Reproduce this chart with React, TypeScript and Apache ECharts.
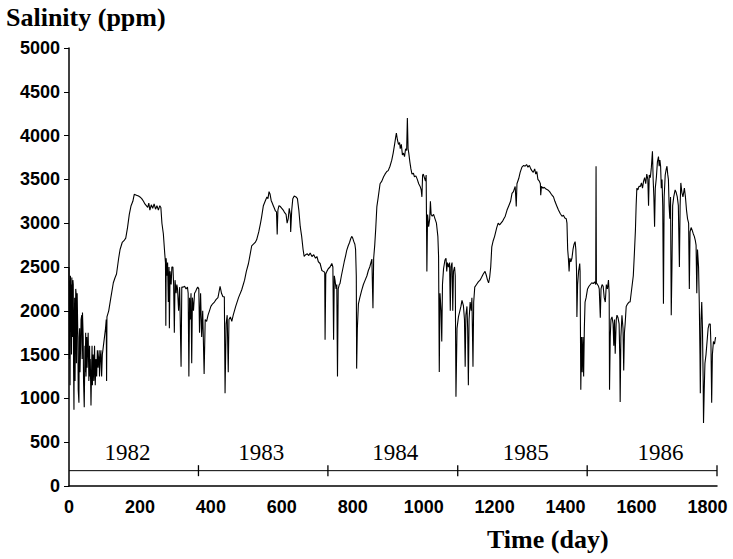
import React, { useEffect, useRef } from "react";
import * as echarts from "echarts";

// Salinity (ppm) readings: [day, value]
const salinity1982: number[][] = [
  [0, 2500], [1, 1450], [2, 2350], [3, 1150], [4, 2400], [5, 1900], [6, 2300], [7, 1500], [8, 2380], [10, 1700],
  [11, 2350], [12, 2300], [13, 1300], [14, 870], [15, 1900], [16, 2150], [17, 1200], [18, 1650], [19, 2250], [20, 2200],
  [21, 1400], [22, 1900], [23, 2200], [25, 1700], [26, 1100], [28, 950], [29, 1700], [30, 1800], [31, 1300], [33, 1650],
  [34, 1900], [36, 1950], [37, 1450], [38, 1980], [40, 1700], [41, 1200], [43, 900], [45, 1600], [46, 1300], [47, 1750],
  [48, 1250], [50, 1700], [51, 1350], [52, 1500], [54, 1750], [56, 1200], [58, 1600], [59, 1250], [60, 1450], [62, 920],
  [64, 1400], [65, 1600], [66, 1150], [68, 1500], [70, 1200], [72, 1600], [74, 1150], [76, 1450], [78, 1250], [80, 1550],
  [82, 1350], [85, 1550], [86, 1250], [88, 1450], [90, 1550], [92, 1250], [94, 1500], [97, 1600], [100, 1700], [103, 1800],
  [105, 1900], [106, 1200], [107, 1930], [112, 2000], [118, 2150], [125, 2320], [130, 2380], [134, 2420], [140, 2600],
  [144, 2700], [150, 2780], [155, 2800], [160, 2830], [165, 2950], [170, 3100], [175, 3200], [180, 3250], [184, 3330],
  [190, 3320], [196, 3310], [200, 3300], [205, 3280], [210, 3250], [214, 3220], [218, 3200], [222, 3180], [225, 3230],
  [228, 3150], [232, 3210], [236, 3170], [240, 3220], [244, 3160], [248, 3200], [252, 3150], [256, 3200], [259, 3180],
  [262, 3000], [266, 2880], [270, 2650], [272, 2550], [273, 1830], [274, 2600], [276, 2400], [278, 2550], [280, 2100],
  [282, 2500], [283, 1800], [285, 2450], [288, 2300], [290, 2500], [293, 2500], [295, 2300], [297, 1750], [299, 2350],
  [302, 2200], [304, 2300], [306, 2250], [309, 2000], [312, 2270], [316, 1360], [318, 2270], [322, 2270], [326, 2280],
  [330, 2250], [334, 2270], [336, 2200], [338, 1250], [340, 2150], [342, 1900], [344, 2200], [346, 1400], [348, 2150],
  [351, 2000], [354, 2200], [357, 2220], [360, 2250], [363, 2270]
];

const salinity1983: number[][] = [
  [366, 2250], [368, 1750], [371, 2200], [374, 1700], [377, 2000], [381, 1280], [384, 1900], [388, 1880], [392, 1950],
  [396, 2000], [400, 2050], [405, 2080], [410, 2100], [415, 2130], [420, 2150], [426, 2280], [430, 2200], [434, 2160],
  [438, 2160], [440, 1060], [443, 1850], [446, 1950], [449, 1300], [451, 1900], [455, 1930], [459, 1880], [463, 1950],
  [470, 2050], [478, 2150], [487, 2240], [495, 2350], [500, 2450], [506, 2540], [511, 2650], [515, 2740], [520, 2760],
  [525, 2780], [529, 2810], [535, 2900], [540, 3000], [543, 3070], [548, 3200], [553, 3250], [558, 3300], [561, 3280],
  [564, 3360], [567, 3330], [570, 3260], [573, 3230], [576, 3200], [579, 3170], [582, 3140], [585, 3130], [587, 2870],
  [589, 3150], [592, 3200], [596, 3190], [600, 3170], [604, 3150], [608, 3120], [612, 3100], [615, 3000], [618, 3050],
  [621, 3170], [624, 3100], [625, 2900], [628, 3150], [631, 3280], [635, 3310], [640, 3300], [644, 3280], [648, 3150],
  [652, 2960], [656, 2850], [660, 2700], [663, 2620], [667, 2640], [672, 2650], [676, 2630], [680, 2660], [685, 2620],
  [690, 2640], [695, 2600], [699, 2620], [703, 2560], [708, 2540], [713, 2460], [717, 2450], [721, 2440], [722, 1670],
  [724, 2420], [727, 2450]
];

const salinity1984: number[][] = [
  [731, 2480], [736, 2500], [741, 2540], [744, 2500], [746, 1670], [748, 2400], [750, 2350], [753, 2250], [755, 2300],
  [757, 1250], [759, 2250], [762, 2300], [764, 2310], [768, 2400], [772, 2480], [776, 2560], [780, 2630], [783, 2690],
  [787, 2740], [791, 2780], [794, 2820], [797, 2850], [800, 2830], [803, 2790], [806, 2760], [808, 2700], [810, 2400],
  [811, 1340], [813, 1800], [816, 2080], [820, 2150], [825, 2230], [830, 2300], [835, 2350], [840, 2400], [844, 2460],
  [848, 2500], [852, 2560], [854, 2590], [856, 2200], [857, 2030], [859, 2600], [862, 2750], [865, 2950], [868, 3190],
  [872, 3300], [877, 3450], [882, 3480], [887, 3530], [891, 3560], [896, 3590], [900, 3600], [905, 3650], [910, 3720],
  [914, 3800], [918, 3900], [921, 3980], [923, 4030], [926, 3950], [929, 3900], [932, 3920], [934, 3850], [937, 3900],
  [940, 3780], [943, 3800], [946, 3760], [949, 3850], [952, 3830], [954, 4200], [956, 3850], [958, 3800], [961, 3700],
  [964, 3620], [967, 3560], [971, 3570], [974, 3530], [978, 3540], [982, 3500], [986, 3450], [990, 3420], [993, 3380],
  [995, 3300], [997, 3550], [999, 3560], [1002, 3520], [1005, 3480], [1007, 3550], [1009, 2450], [1011, 3100],
  [1014, 2960], [1017, 3050], [1019, 3250], [1021, 3100], [1024, 3080], [1028, 3100], [1032, 3050], [1036, 3000],
  [1040, 2850], [1042, 2620], [1044, 1300], [1046, 2200], [1049, 2000], [1051, 1650], [1053, 2300], [1056, 2480],
  [1060, 2580], [1063, 2600], [1065, 2450], [1067, 2550], [1070, 2500], [1073, 2550], [1075, 2000], [1077, 2500],
  [1080, 2550], [1082, 2000], [1084, 2450], [1087, 2500], [1089, 2400], [1091, 1020], [1094, 1800]
];

const salinity1985: number[][] = [
  [1098, 1930], [1102, 2000], [1105, 2050], [1108, 2120], [1112, 2060], [1115, 1900], [1117, 1360], [1119, 1950],
  [1122, 2050], [1124, 1800], [1126, 1150], [1128, 1900], [1131, 2100], [1134, 2000], [1136, 2150], [1139, 1360],
  [1141, 2100], [1144, 2270], [1149, 2300], [1154, 2330], [1159, 2350], [1163, 2380], [1168, 2420], [1173, 2450],
  [1177, 2400], [1180, 2350], [1183, 2320], [1186, 2380], [1189, 2500], [1192, 2730], [1196, 2800], [1200, 2850],
  [1206, 2950], [1210, 3000], [1214, 2980], [1218, 3000], [1222, 3020], [1226, 3050], [1230, 3080], [1235, 3150],
  [1240, 3200], [1245, 3250], [1249, 3340], [1253, 3360], [1258, 3420], [1261, 3190], [1263, 3450], [1268, 3510],
  [1272, 3580], [1277, 3640], [1282, 3660], [1286, 3650], [1290, 3670], [1294, 3640], [1298, 3660], [1302, 3620],
  [1305, 3600], [1309, 3580], [1313, 3620], [1316, 3560], [1319, 3590], [1322, 3500], [1326, 3480], [1329, 3450],
  [1330, 3320], [1332, 3420], [1336, 3400], [1340, 3410], [1345, 3390], [1350, 3380], [1355, 3360], [1360, 3330],
  [1366, 3300], [1370, 3250], [1375, 3200], [1380, 3150], [1385, 3110], [1390, 3080], [1394, 3090], [1398, 3060],
  [1402, 3050], [1404, 3000], [1406, 2700], [1408, 2600], [1410, 2450], [1412, 2600], [1415, 2560], [1418, 2600],
  [1421, 2700], [1424, 2760], [1427, 2790], [1429, 2700], [1431, 2450], [1432, 1930], [1434, 2300], [1437, 2460],
  [1440, 2540], [1441, 2450], [1443, 1100], [1445, 1700], [1447, 1300], [1449, 1700], [1451, 1250], [1453, 1800],
  [1455, 2100], [1458, 2150]
];

const salinity1986: number[][] = [
  [1462, 2250], [1466, 2280], [1470, 2300], [1474, 2320], [1478, 2310], [1482, 2330], [1485, 2300], [1486, 3650],
  [1487, 2320], [1490, 2300], [1493, 2280], [1495, 2250], [1498, 1920], [1500, 2250], [1503, 2300], [1506, 2280],
  [1509, 2150], [1512, 2100], [1515, 2300], [1518, 2250], [1521, 2350], [1523, 2200], [1524, 1100], [1526, 1700],
  [1528, 1900], [1531, 1930], [1534, 1850], [1536, 1600], [1538, 1900], [1540, 1510], [1543, 1900], [1545, 1950],
  [1548, 1920], [1551, 1850], [1553, 1450], [1554, 960], [1556, 1700], [1559, 1950], [1562, 1800], [1564, 1320],
  [1566, 1750], [1568, 1850], [1571, 2050], [1575, 2080], [1579, 2100], [1582, 2100], [1585, 2200], [1588, 2300],
  [1591, 2400], [1594, 2650], [1597, 2920], [1599, 3200], [1601, 3400], [1604, 3380], [1607, 3420], [1611, 3420],
  [1614, 3460], [1617, 3400], [1620, 3480], [1623, 3520], [1626, 3450], [1629, 3560], [1632, 3500], [1634, 3200],
  [1636, 3550], [1639, 3520], [1642, 3640], [1645, 3820], [1647, 3500], [1649, 3300], [1651, 2960], [1653, 3400],
  [1656, 3520], [1659, 3700], [1662, 3760], [1664, 3650], [1666, 3720], [1668, 3650], [1670, 3400], [1672, 3500],
  [1674, 3200], [1676, 2080], [1678, 3300], [1681, 3550], [1684, 3620], [1686, 3650], [1688, 3560], [1690, 3500],
  [1692, 3200], [1694, 3050], [1696, 3300], [1698, 1950], [1700, 2500], [1702, 3200], [1705, 3300], [1709, 3380],
  [1712, 3350], [1715, 3300], [1718, 3200], [1721, 2500], [1723, 3200], [1725, 3460], [1728, 3350], [1731, 3300],
  [1735, 3400], [1738, 3300], [1741, 3150], [1744, 3050], [1747, 3000], [1749, 2250], [1751, 2900], [1754, 2950],
  [1757, 2920], [1760, 2880], [1763, 2850], [1766, 2800], [1768, 2750], [1770, 2200], [1772, 2700], [1775, 2500],
  [1777, 2100], [1779, 1500], [1780, 1060], [1782, 1900], [1784, 2100], [1786, 1800], [1788, 1200], [1789, 720],
  [1791, 1100], [1793, 1400], [1796, 1500], [1799, 1650], [1802, 1800], [1805, 1850], [1808, 1850], [1810, 1600],
  [1812, 950], [1814, 1500], [1817, 1650], [1820, 1620], [1823, 1700]
];

// Year band annotations
const yearNames = ["1982", "1983", "1984", "1985", "1986"];
const yearLabelDays = [165, 542, 920, 1288, 1668];
const yearBoundaryDays = [365, 730, 1096, 1461, 1827];
const yearLineLevel = 175;
const yearLabelLevel = 380;

const X_MAX = 1827;

export default function App() {
  const ref = useRef<HTMLDivElement>(null);

  useEffect(() => {
    if (!ref.current) return;
    const chart = echarts.init(ref.current, null, { renderer: "svg" });
    const salinity = [
      ...salinity1982,
      ...salinity1983,
      ...salinity1984,
      ...salinity1985,
      ...salinity1986,
    ];
    const option: any = {
      animation: false,
      backgroundColor: "#ffffff",
      grid: { left: 69, right: 16, top: 48, bottom: 73, containLabel: false },
      xAxis: {
        type: "value",
        min: 0,
        max: X_MAX,
        interval: 200,
        axisLine: { show: true, lineStyle: { color: "#000", width: 1.5 } },
        axisTick: { show: false },
        splitLine: { show: false },
        axisLabel: {
          color: "#000",
          fontFamily: "Liberation Sans",
          fontWeight: "bold",
          fontSize: 18,
          margin: 12,
          formatter: (v: number) => String(v),
        },
      },
      yAxis: {
        type: "value",
        min: 0,
        max: 5000,
        interval: 500,
        axisLine: { show: true, lineStyle: { color: "#000", width: 1.5 } },
        axisTick: { show: true, inside: false, length: 5, lineStyle: { color: "#000", width: 1 } },
        splitLine: { show: false },
        axisLabel: {
          color: "#000",
          fontFamily: "Liberation Sans",
          fontWeight: "bold",
          fontSize: 18,
          margin: 9,
          formatter: (v: number) => String(v),
        },
      },
      series: [
        {
          type: "line",
          data: salinity,
          showSymbol: false,
          symbol: "none",
          lineStyle: { color: "#000", width: 1.1 },
          z: 3,
        },
        {
          type: "line",
          data: [
            [0, yearLineLevel],
            [X_MAX, yearLineLevel],
          ],
          showSymbol: false,
          symbol: "none",
          lineStyle: { color: "#000", width: 1 },
          z: 2,
        },
        {
          type: "scatter",
          data: yearBoundaryDays.map((d) => [d, yearLineLevel]),
          symbol: "rect",
          symbolSize: [1.3, 11],
          itemStyle: { color: "#000", opacity: 1 },
          z: 4,
        },
        {
          type: "scatter",
          data: yearLabelDays.map((d, i) => [d, yearLabelLevel, yearNames[i]]),
          symbolSize: 0,
          itemStyle: { opacity: 1, color: "#000" },
          label: {
            show: true,
            position: "inside",
            formatter: (p: any) => p.data[2],
            color: "#000",
            opacity: 1,
            fontFamily: "Liberation Serif",
            fontSize: 23,
          },
          z: 4,
        },
      ],
      graphic: [
        {
          type: "text",
          left: 6,
          top: 4,
          style: {
            text: "Salinity (ppm)",
            fill: "#000",
            font: "bold 26px 'Liberation Serif'",
          },
        },
        {
          type: "text",
          left: 487,
          top: 526,
          style: {
            text: "Time (day)",
            fill: "#000",
            font: "bold 26px 'Liberation Serif'",
          },
        },
      ],
    };
    chart.setOption(option);
    return () => chart.dispose();
  }, []);

  return (
    <div
      ref={ref}
      style={{ position: "fixed", left: 0, top: 0, width: 733, height: 559, background: "#fff" }}
    />
  );
}
